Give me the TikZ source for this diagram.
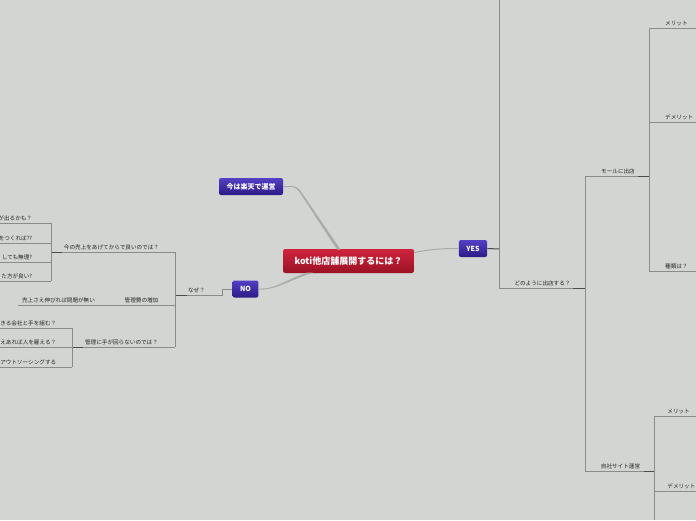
\documentclass[tikz,border=0pt]{standalone}
\usepackage{fontspec}
\setmainfont{Noto Sans CJK JP}
\usetikzlibrary{positioning,calc}
\definecolor{bgc}{HTML}{D3D5D2}
\definecolor{linec}{HTML}{8A8C89}
\definecolor{stubc}{HTML}{4A4C4A}
\definecolor{connc}{HTML}{A9ABA8}
\definecolor{labelc}{HTML}{262626}
\definecolor{redtop}{HTML}{D0243E}
\definecolor{redbot}{HTML}{9A1224}
\definecolor{purtop}{HTML}{5440C4}
\definecolor{purbot}{HTML}{2C1A86}

\begin{document}
\begin{tikzpicture}[x=1pt,y=-1pt,
  rootbox/.style={rounded corners=2pt,top color=redtop,bottom color=redbot,
    text=white,font=\bfseries\fontsize{9}{10}\selectfont,
    minimum height=24pt,inner xsep=11.5pt},
  topic/.style={rounded corners=2pt,top color=purtop,bottom color=purbot,
    text=white,font=\bfseries\fontsize{7}{8}\selectfont,
    minimum height=17pt,inner xsep=7.5pt},
  lbl/.style={anchor=south,inner sep=1.8pt,text=labelc,font=\fontsize{5.6}{6}\selectfont},
  branch/.style={draw=linec,line width=0.6pt},
  stub/.style={draw=stubc,line width=1pt},
  conn/.style={fill=connc}]

\fill[bgc] (0,0) rectangle (696,520);
\useasboundingbox (0,0) rectangle (696,520);

% main topics
\draw (348.5,261) node[rootbox] (root) {koti他店舗展開するには？};
\draw (251,186.5) node[topic] (rakuten) {今は楽天で運営};
\draw (245.5,289) node[topic] (no) {NO};
\draw (473,248.5) node[topic] (yes) {YES};

% tapered links from the root
\path[conn] ([yshift=0.5pt]rakuten.east) -- (291,186) .. controls (296,186) and (299,188.5) .. (301.3,192)
  -- (340.5,249.5) -- (337,249.5) -- (300,192.8) .. controls (297.5,189.3) and (295,187) .. (291,187)
  -- ([yshift=-0.5pt]rakuten.east) -- cycle;
\path[conn] ([yshift=0.5pt]no.east) -- (263,288.5) .. controls (275,288.5) and (288,279) .. (307,272.5)
  -- (313,272.5) .. controls (290,280.3) and (275,289.5) .. (263,289.5) -- ([yshift=-0.5pt]no.east) -- cycle;
\draw[connc,line width=1pt] ([yshift=8.5pt]root.east) .. controls (430,249.5) and (440,248.5) .. (yes.west);

% junctions
\coordinate (why) at (175,295);
\coordinate (ima) at (51,252);
\coordinate (hiyo) at (100,305);
\coordinate (kanri) at (72,347);
\coordinate (how) at (585,288);
\coordinate (mall) at (649,176);
\coordinate (own) at (654,471);

% NO side
\draw[branch] (no.west) -- ++(-10,0) |- (why);
\draw[stub] (why) -- ++(12,0);
\node[lbl] (l-why) at (196.5,295) {なぜ？};
\draw[branch] (175,252) -- (175,347);

\draw[branch] (175,252) -- (ima);
\draw[stub] (ima) -- ++(11,0);
\node[lbl] (l-ima) at (111.5,252) {今の売上をあげてからで良いのでは？};
\draw[branch] (51,223) -- (51,281);
\foreach \y/\t in {223/が出るかも？, 243/をつくれば??, 262/しても無理?, 281/た方が良い?}
  \draw[branch] (51,\y) -- (0,\y) node[lbl,anchor=south east,pos=0.33] {\t};

\draw[branch] (175,305) -- (hiyo);
\node[lbl] (l-hiyo) at (141.5,305) {管理費の増加};
\draw[branch] (hiyo) -- (18,305);
\node[lbl] (l-uri) at (58.5,305) {売上さえ伸びれば問題が無い};

\draw[branch] (175,347) -- (kanri);
\draw[stub] (kanri) -- ++(11,0);
\node[lbl] (l-kanri) at (121.5,347) {管理に手が回らないのでは？};
\draw[branch] (72,328) -- (72,367);
\foreach \y/\t in {328/きる会社と手を組む？, 347/えあれば人を雇える？, 367/アウトソーシングする}
  \draw[branch] (72,\y) -- (0,\y) node[lbl,anchor=south east,pos=0.19] {\t};

% YES side
\draw[stub] (yes.east) -- (499,249);
\draw[branch] (499,0) -- (499,288) -- (how);
\draw[stub] (how) -- ++(-12,0);
\node[lbl] (l-how) at (542.5,288) {どのように出店する？};
\draw[branch] (585,176) -- (585,471);

\draw[branch] (585,176) -- (mall);
\draw[stub] (mall) -- ++(-11,0);
\node[lbl] (l-mall) at (618,176) {モールに出店};
\draw[branch] (649,28) -- (649,271);
\foreach \y/\t in {28/メリット, 122/デメリット, 271/種類は？}
  \draw[branch] (649,\y) -- (696,\y) node[lbl,anchor=south west,pos=0.3] {\t};

\draw[branch] (585,471) -- (own);
\draw[stub] (own) -- ++(-10,0);
\node[lbl] (l-own) at (620.5,471) {自社サイト運営};
\draw[branch] (654,416) -- (654,520);
\foreach \y/\t in {416/メリット, 491/デメリット}
  \draw[branch] (654,\y) -- (696,\y) node[lbl,anchor=south west,pos=0.27] {\t};
\end{tikzpicture}
\end{document}
